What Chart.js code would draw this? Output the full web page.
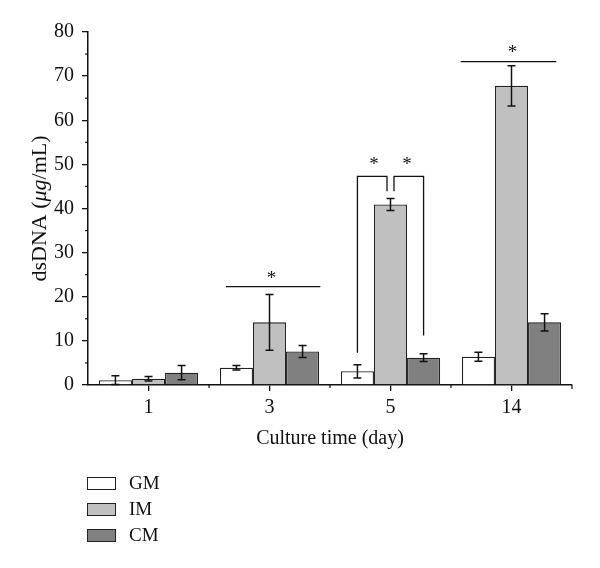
<!DOCTYPE html>
<html>
<head>
<meta charset="utf-8">
<script src="https://cdn.jsdelivr.net/npm/chart.js@4.4.1/dist/chart.umd.min.js"></script>
<style>
  html, body { margin: 0; padding: 0; background: #fff; }
  #wrap { position: relative; width: 600px; height: 568px; }
  #legend { position: absolute; left: 87px; top: 470px; font-family: "Liberation Serif", serif; font-size: 19px; color: #111; }
  .item { display: flex; align-items: center; height: 26px; }
  .box { width: 27px; height: 11px; border: 1.5px solid #222; margin-right: 13px; }
</style>
</head>
<body>
<div id="wrap">
  <canvas id="chart" width="600" height="568"></canvas>
  <div id="legend"></div>
</div>
<script>
// data
const days = ['1', '3', '5', '14'];
const gmValues = [1.1, 3.9, 3.1, 6.4];
const gmErrors = [1.0, 0.5, 1.5, 1.0];
const imValues = [1.4, 14.2, 40.9, 67.8];
const imErrors = [0.5, 6.3, 1.35, 4.55];
const cmValues = [2.8, 7.6, 6.2, 14.2];
const cmErrors = [1.6, 1.35, 0.9, 1.95];
const seriesNames = ['GM', 'IM', 'CM'];
const seriesColors = ['#ffffff', '#c0c0c0', '#808080'];

const fontFamily = '"Liberation Serif", serif';
const errors = [gmErrors, imErrors, cmErrors];

// error bars, minor ticks, significance marks, y title
const extras = {
    id: 'extras',
    afterDatasetsDraw(chart) {
        const ctx = chart.ctx;
        const x = chart.scales.x;
        const y = chart.scales.y;
        ctx.save();
        ctx.strokeStyle = '#111';
        ctx.lineWidth = 1.5;

        // error bars
        chart.data.datasets.forEach((ds, i) => {
            const meta = chart.getDatasetMeta(i);
            meta.data.forEach((bar, j) => {
                const v = ds.data[j], e = errors[i][j];
                const yt = y.getPixelForValue(v + e), yb = y.getPixelForValue(v - e);
                ctx.beginPath();
                ctx.moveTo(bar.x, yt); ctx.lineTo(bar.x, yb);
                ctx.moveTo(bar.x - 4, yt); ctx.lineTo(bar.x + 4, yt);
                ctx.moveTo(bar.x - 4, yb); ctx.lineTo(bar.x + 4, yb);
                ctx.stroke();
            });
        });

        // minor y ticks
        ctx.lineWidth = 1.2;
        for (let v = 5; v < 80; v += 10) {
            const py = y.getPixelForValue(v);
            ctx.beginPath();
            ctx.moveTo(x.left - 3, py); ctx.lineTo(x.left, py);
            ctx.stroke();
        }
        // category boundary ticks on x
        const step = x.getPixelForValue(1) - x.getPixelForValue(0);
        for (let k = 1; k < days.length; k++) {
            const px = x.getPixelForValue(k) - step / 2;
            ctx.beginPath();
            ctx.moveTo(px, y.bottom); ctx.lineTo(px, y.bottom + 3);
            ctx.stroke();
        }
        const px = x.getPixelForValue(days.length - 1) + step / 2;
        ctx.beginPath();
        ctx.moveTo(px, y.bottom); ctx.lineTo(px, y.bottom + 4);
        ctx.stroke();

        // significance marks
        ctx.lineWidth = 1.3;
        ctx.fillStyle = '#111';
        ctx.font = '19px ' + fontFamily;
        ctx.textAlign = 'center';
        ctx.textBaseline = 'middle';
        const star = (sx, sy) => ctx.fillText('*', sx, sy);

        // day 3
        let cx = x.getPixelForValue(1);
        let ly = y.getPixelForValue(22.3);
        ctx.beginPath();
        ctx.moveTo(cx - 0.36 * step, ly); ctx.lineTo(cx + 0.42 * step, ly);
        ctx.stroke();
        star(cx + 2, ly - 8);

        // day 14
        cx = x.getPixelForValue(3);
        ly = y.getPixelForValue(73.3);
        ctx.beginPath();
        ctx.moveTo(cx - 0.42 * step, ly); ctx.lineTo(cx + 0.37 * step, ly);
        ctx.stroke();
        star(cx + 1, ly - 9);

        // day 5 brackets
        const gm = chart.getDatasetMeta(0).data[2].x;
        const im = chart.getDatasetMeta(1).data[2].x;
        const cm = chart.getDatasetMeta(2).data[2].x;
        const topY = y.getPixelForValue(47.3);
        ctx.beginPath();
        ctx.moveTo(gm, y.getPixelForValue(7.3));
        ctx.lineTo(gm, topY);
        ctx.lineTo(im - 3.5, topY);
        ctx.lineTo(im - 3.5, y.getPixelForValue(43.9));
        ctx.moveTo(im + 3.5, y.getPixelForValue(43.9));
        ctx.lineTo(im + 3.5, topY);
        ctx.lineTo(cm, topY);
        ctx.lineTo(cm, y.getPixelForValue(11.2));
        ctx.stroke();
        star((gm + im) / 2, topY - 11);
        star((im + cm) / 2, topY - 11);

        // y axis title with italic mu g
        ctx.translate(40, (y.top + y.bottom) / 2);
        ctx.rotate(-Math.PI / 2);
        const parts = [['dsDNA (', ''], ['\u03bcg', 'italic '], ['/mL)', '']];
        let total = 0;
        parts.forEach(p => { ctx.font = p[1] + '22px ' + fontFamily; total += ctx.measureText(p[0]).width; });
        let tx = -total / 2;
        ctx.textAlign = 'left';
        parts.forEach(p => {
            ctx.font = p[1] + '22px ' + fontFamily;
            ctx.fillText(p[0], tx, 0);
            tx += ctx.measureText(p[0]).width;
        });
        ctx.restore();
    }
};

const chart = new Chart(document.getElementById('chart'), {
    type: 'bar',
    data: {
        labels: days,
        datasets: [
            { label: seriesNames[0], data: gmValues, backgroundColor: seriesColors[0] },
            { label: seriesNames[1], data: imValues, backgroundColor: seriesColors[1] },
            { label: seriesNames[2], data: cmValues, backgroundColor: seriesColors[2] }
        ]
    },
    options: {
        responsive: false,
        animation: false,
        layout: { padding: { top: 32, right: 28, bottom: 113, left: 0 } },
        datasets: { bar: { borderColor: '#222', borderWidth: 1.3, categoryPercentage: 0.82, barPercentage: 1.0 } },
        plugins: { legend: { display: false }, tooltip: { enabled: false } },
        scales: {
            x: {
                grid: { display: true, drawOnChartArea: false, offset: false, tickLength: 6, color: '#111', lineWidth: 1.3 },
                border: { color: '#111', width: 1.5 },
                ticks: { color: '#111', font: { family: fontFamily, size: 20 }, padding: 5 },
                title: { display: true, text: 'Culture time (day)', color: '#111', font: { family: fontFamily, size: 20 }, padding: { top: 4 } },
                afterFit(scale) { scale.height = 70; }
            },
            y: {
                min: 0, max: 80,
                grid: { display: true, drawOnChartArea: false, tickLength: 6, color: '#111', lineWidth: 1.3 },
                border: { color: '#111', width: 1.5 },
                ticks: { stepSize: 10, color: '#111', font: { family: fontFamily, size: 20 }, padding: 8 },
                afterFit(scale) { scale.width = 88; }
            }
        }
    },
    plugins: [extras]
});

// legend
const legend = document.getElementById('legend');
seriesNames.forEach((name, i) => {
    const item = document.createElement('div');
    item.className = 'item';
    item.innerHTML = '<span class="box" style="background:' + seriesColors[i] + '"></span><span>' + name + '</span>';
    legend.appendChild(item);
});
</script>
</body>
</html>
